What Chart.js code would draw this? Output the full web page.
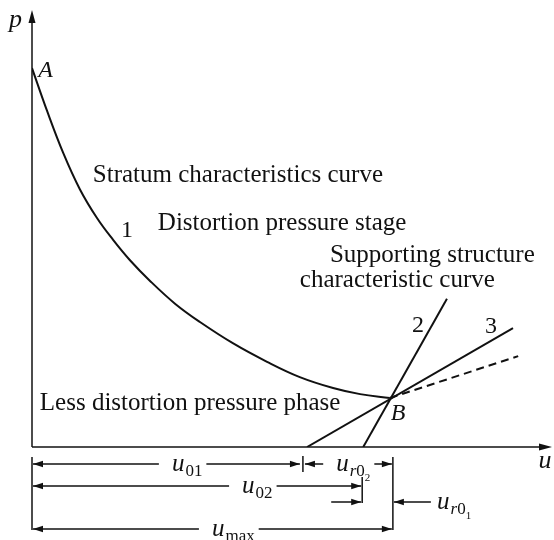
<!DOCTYPE html>
<html>
<head>
<meta charset="utf-8">
<script src="https://cdn.jsdelivr.net/npm/chart.js@4.4.0/dist/chart.umd.min.js"></script>
<style>
  html, body { margin: 0; padding: 0; background: #fff; }
  #wrap { width: 554px; height: 540px; }
</style>
</head>
<body>
<div id="wrap"><canvas id="chart" width="554" height="540"></canvas></div>
<script>
// curve 1: stratum characteristic curve, from A down to B
const curve1U = [0, 0.29, 0.60, 0.92, 1.25, 1.56, 1.88, 2.27, 2.75, 3.23, 3.87, 4.52, 5.15, 5.79, 6.31, 6.88];
const curve1P = [8.67, 7.69, 6.73, 5.90, 5.24, 4.74, 4.28, 3.80, 3.28, 2.86, 2.37, 1.95, 1.60, 1.35, 1.21, 1.12];

// supporting structure lines 2 and 3, plus the dashed one out of B
const line2U = [6.37, 7.98];
const line2P = [0, 3.39];
const line3U = [5.29, 9.25];
const line3P = [0, 2.72];
const dashU = [6.88, 9.35];
const dashP = [1.12, 2.08];

// displacement marks under the u axis
const dimNames = ['u01', 'u02', 'umax'];
const dimValues = [5.21, 6.35, 6.94];

// text labels inside the plot (u, p of the text's left baseline)
const labelTexts = ['Stratum characteristics curve', 'Distortion pressure stage', 'Supporting structure',
    'characteristic curve', 'Less distortion pressure phase', '1', '2', '3'];
const labelU = [1.17, 2.42, 5.73, 5.15, 0.15, 1.71, 7.31, 8.71];
const labelP = [6.06, 4.97, 4.23, 3.66, 0.85, 4.80, 2.63, 2.61];

const SERIF = '"Liberation Serif", "Times New Roman", serif';
const INK = '#111';

function toPts(us, ps) {
    return us.map((u, i) => ({x: u, y: ps[i]}));
}

function arrowHead(ctx, x, y, dir, len, half) {
    // dir: 'left' | 'right' | 'up'
    ctx.beginPath();
    if (dir === 'left') {
        ctx.moveTo(x, y); ctx.lineTo(x + len, y - half); ctx.lineTo(x + len, y + half);
    } else if (dir === 'right') {
        ctx.moveTo(x, y); ctx.lineTo(x - len, y - half); ctx.lineTo(x - len, y + half);
    } else {
        ctx.moveTo(x, y); ctx.lineTo(x - half, y + len); ctx.lineTo(x + half, y + len);
    }
    ctx.closePath();
    ctx.fill();
}

function hline(ctx, xa, xb, y) {
    ctx.beginPath();
    ctx.moveTo(xa, y);
    ctx.lineTo(xb, y);
    ctx.stroke();
}

function vline(ctx, x, ya, yb) {
    ctx.beginPath();
    ctx.moveTo(x, ya);
    ctx.lineTo(x, yb);
    ctx.stroke();
}

// draws u with subscripts, returns width
function subLabel(ctx, x, y, parts) {
    let cx = x;
    parts.forEach((p) => {
        ctx.font = (p.it ? 'italic ' : '') + p.size + 'px ' + SERIF;
        ctx.fillText(p.t, cx, y + p.dy);
        cx += ctx.measureText(p.t).width + (p.gap || 0);
    });
    return cx - x;
}

function subWidth(ctx, parts) {
    let w = 0;
    parts.forEach((p) => {
        ctx.font = (p.it ? 'italic ' : '') + p.size + 'px ' + SERIF;
        w += ctx.measureText(p.t).width + (p.gap || 0);
    });
    return w;
}

const U = (sub) => [{t: 'u', it: true, size: 25, dy: 0, gap: 1}].concat(sub);
const labU01 = U([{t: '01', size: 17, dy: 5}]);
const labU02 = U([{t: '02', size: 17, dy: 5}]);
const labUmax = U([{t: 'max', size: 17, dy: 5}]);
const labUr02 = U([{t: 'r', it: true, size: 17, dy: 5}, {t: '0', size: 17, dy: 5}, {t: '2', size: 11, dy: 10}]);
const labUr01 = U([{t: 'r', it: true, size: 17, dy: 5}, {t: '0', size: 17, dy: 5}, {t: '1', size: 11, dy: 10}]);

const sketchPlugin = {
    id: 'sketch',
    afterDatasetsDraw(chart) {
        const ctx = chart.ctx;
        const xs = chart.scales.x;
        const ys = chart.scales.y;
        const X = (u) => xs.getPixelForValue(u);
        const Y = (p) => ys.getPixelForValue(p);
        const x0 = X(0), y0 = Y(0);
        const top = chart.chartArea.top, right = chart.chartArea.right;

        ctx.save();
        ctx.strokeStyle = INK;
        ctx.fillStyle = INK;
        ctx.lineWidth = 1.5;

        // axes with arrows
        vline(ctx, x0, y0, top + 8);
        arrowHead(ctx, x0, top, 'up', 13, 3.5);
        hline(ctx, x0, right - 8, y0);
        arrowHead(ctx, right, y0, 'right', 13, 3.5);

        // plot texts
        ctx.textBaseline = 'alphabetic';
        labelTexts.forEach((t, i) => {
            const isNum = t.length === 1;
            ctx.font = (isNum ? 24 : 25) + 'px ' + SERIF;
            ctx.fillText(t, X(labelU[i]), Y(labelP[i]));
        });
        ctx.font = 'italic 24px ' + SERIF;
        ctx.fillText('A', X(0.12), Y(8.47));
        ctx.fillText('B', X(6.9), Y(0.62));
        ctx.font = 'italic 26px ' + SERIF;
        ctx.fillText('p', X(-0.44), Y(9.61));
        ctx.fillText('u', X(9.74), Y(-0.48));

        // dimension lines under the axis
        const xa = X(dimValues[0]), xb = X(dimValues[1]), xm = X(dimValues[2]);
        const r1 = y0 + 17, r2 = y0 + 39, r3 = y0 + 55, r4 = y0 + 82;
        const AL = 10, AH = 3.2;
        ctx.lineWidth = 1.5;
        vline(ctx, x0, y0 + 10, r4 + 1);
        vline(ctx, xm, y0 + 10, r4 + 1);
        vline(ctx, xa, r1 - 8, r1 + 8);
        vline(ctx, xb, r2 - 9, r2 + 17);

        const span = (xl, xr, y, labX, lab) => {
            const w = subWidth(ctx, lab);
            hline(ctx, xl, labX - 13, y);
            hline(ctx, labX + w + 4, xr, y);
            arrowHead(ctx, xl, y, 'left', AL, AH);
            arrowHead(ctx, xr, y, 'right', AL, AH);
            subLabel(ctx, labX, y + 7, lab);
        };
        span(x0 + 1, xa - 3, r1, X(2.69), labU01);
        span(xa + 2, xm - 1, r1, X(5.85), labUr02);
        span(x0 + 1, xb - 1, r2, X(4.04), labU02);
        span(x0 + 1, xm - 1, r4, X(3.46), labUmax);

        // outside arrows for u_r01
        hline(ctx, xb - 31, xb - 1, r3);
        arrowHead(ctx, xb - 1, r3, 'right', AL, AH);
        hline(ctx, xm + 1, xm + 38, r3);
        arrowHead(ctx, xm + 1, r3, 'left', AL, AH);
        subLabel(ctx, X(7.79), r3 + 7, labUr01);

        ctx.restore();
    }
};

const lineStyle = {
    showLine: true,
    borderColor: INK,
    borderWidth: 2,
    pointRadius: 0,
    fill: false
};

new Chart(document.getElementById('chart'), {
    type: 'scatter',
    data: {
        datasets: [
            Object.assign({label: '1', data: toPts(curve1U, curve1P), tension: 0.4}, lineStyle),
            Object.assign({label: '2', data: toPts(line2U, line2P)}, lineStyle),
            Object.assign({label: '3', data: toPts(line3U, line3P)}, lineStyle),
            Object.assign({label: 'dash', data: toPts(dashU, dashP), borderDash: [8, 5]}, lineStyle)
        ]
    },
    options: {
        responsive: false,
        animation: false,
        layout: {padding: {left: 32, right: 2, top: 10, bottom: 93}},
        scales: {
            x: {type: 'linear', min: 0, max: 10, display: false},
            y: {type: 'linear', min: 0, max: 10, display: false}
        },
        plugins: {
            legend: {display: false},
            tooltip: {enabled: false}
        }
    },
    plugins: [sketchPlugin]
});
</script>
</body>
</html>
